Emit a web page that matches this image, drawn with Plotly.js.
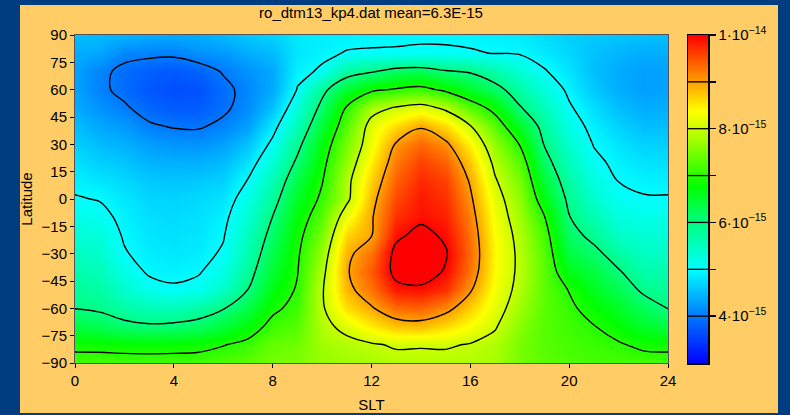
<!DOCTYPE html>
<html>
<head>
<meta charset="utf-8">
<script src="https://cdn.plot.ly/plotly-3.0.1.min.js"></script>
<style>
  html, body { margin: 0; padding: 0; background: #003C80; }
  #chart { width: 790px; height: 415px; }
</style>
</head>
<body>
<div id="chart"></div>
<script>
// Local solar time (hours) and latitude (degrees) of the grid
const slt = [0,1,2,3,4,5,6,7,8,9,10,11,12,13,14,15,16,17,18,19,20,21,22,23,24];
const latitude = [90,80,70,60,50,40,30,20,10,0,-10,-20,-30,-40,-50,-60,-70,-80,-90];

// Density values in units of 1e-15 (rows follow `latitude`, columns follow `slt`)
const lat90  = [4.52,4.50,4.45,4.40,4.38,4.40,4.50,4.60,4.68,4.85,4.88,4.90,4.93,4.93,4.93,4.93,4.92,4.88,4.85,4.75,4.65,4.60,4.58,4.55,4.52];
const lat80  = [4.40,4.35,4.12,4.08,4.07,4.20,4.25,4.40,4.50,4.82,4.93,5.02,5.03,5.04,5.07,5.06,5.03,4.99,4.97,4.85,4.70,4.55,4.45,4.40,4.40];
const lat70  = [4.32,4.10,3.90,3.80,3.75,3.82,4.03,4.20,4.36,4.90,5.05,5.75,5.95,6.20,6.25,6.05,5.95,5.65,5.35,5.03,4.80,4.52,4.38,4.30,4.32];
const lat60  = [4.32,4.08,3.90,3.72,3.65,3.68,3.90,4.12,4.38,5.02,5.85,6.50,6.90,7.05,7.15,6.90,6.55,6.20,5.70,5.30,4.92,4.60,4.40,4.30,4.32];
const lat50  = [4.40,4.20,4.05,3.85,3.75,3.76,3.93,4.15,4.55,5.30,6.15,7.05,7.80,8.05,8.20,7.90,7.30,6.83,6.05,5.55,5.05,4.75,4.52,4.40,4.40];
const lat40  = [4.52,4.35,4.25,4.05,3.97,3.96,4.08,4.30,4.85,5.55,6.45,7.30,8.20,8.60,8.95,8.60,8.02,7.30,6.55,5.80,5.20,4.88,4.66,4.52,4.52];
const lat30  = [4.66,4.50,4.42,4.28,4.22,4.20,4.30,4.55,5.10,5.85,6.70,7.50,8.30,9.05,9.35,9.10,8.45,7.65,6.98,5.97,5.38,4.98,4.80,4.67,4.66];
const lat20  = [4.78,4.65,4.58,4.45,4.42,4.42,4.50,4.80,5.35,6.10,6.85,7.68,8.50,9.25,9.60,9.40,8.75,7.88,7.30,6.20,5.55,5.10,4.90,4.80,4.78];
const lat10  = [4.90,4.82,4.72,4.60,4.58,4.60,4.67,5.02,5.60,6.35,6.97,7.85,8.70,9.40,9.75,9.60,8.95,8.05,7.50,6.45,5.72,5.25,4.99,4.92,4.90];
const lat0   = [5.03,4.98,4.83,4.70,4.68,4.72,4.80,5.20,5.80,6.55,7.10,7.88,8.85,9.55,9.85,9.70,9.08,8.20,7.65,6.70,5.88,5.40,5.10,5.03,5.03];
const latS10 = [5.18,5.12,4.90,4.77,4.74,4.78,4.90,5.35,6.01,6.72,7.30,8.30,8.95,9.70,9.90,9.80,9.20,8.30,7.75,7.02,6.02,5.60,5.25,5.18,5.18];
const latS20 = [5.33,5.27,4.96,4.82,4.78,4.82,4.97,5.50,6.18,6.85,7.50,8.65,8.98,9.90,10.15,9.92,9.30,8.38,7.85,7.20,6.20,5.85,5.45,5.33,5.33];
const latS30 = [5.48,5.42,5.03,4.87,4.83,4.87,5.05,5.63,6.35,6.93,7.70,8.88,9.30,10.15,10.35,10.05,9.35,8.42,7.90,7.30,6.40,6.15,5.75,5.48,5.48];
const latS40 = [5.64,5.57,5.20,4.95,4.92,4.97,5.20,5.80,6.50,6.98,7.85,8.95,9.45,10.15,10.25,9.95,9.28,8.40,7.90,7.35,6.65,6.40,6.05,5.68,5.64];
const latS50 = [5.82,5.73,5.40,5.15,5.05,5.12,5.45,6.01,6.68,7.05,7.95,8.85,9.30,9.85,9.90,9.70,9.05,8.33,7.85,7.35,6.98,6.60,6.30,5.92,5.82];
const latS60 = [5.99,5.92,5.72,5.55,5.55,5.72,5.97,6.35,6.90,7.15,7.93,8.60,8.95,9.35,9.40,9.15,8.70,8.20,7.75,7.33,7.10,6.80,6.55,6.25,5.99];
const latS70 = [6.40,6.30,6.15,6.08,6.12,6.20,6.45,6.75,7.15,7.30,7.85,8.15,8.50,8.75,8.80,8.60,8.35,8.04,7.60,7.30,7.15,7.02,6.78,6.55,6.40];
const latS80 = [6.87,6.86,6.82,6.80,6.82,6.86,6.98,7.12,7.40,7.45,7.75,7.85,7.95,8.05,8.03,8.05,7.97,7.85,7.50,7.30,7.20,7.12,7.05,6.90,6.87];
const latS90 = [7.20,7.20,7.20,7.20,7.20,7.20,7.25,7.35,7.50,7.55,7.70,7.75,7.80,7.85,7.88,7.85,7.85,7.80,7.50,7.35,7.25,7.22,7.20,7.20,7.20];

const density = [lat90,lat80,lat70,lat60,lat50,lat40,lat30,lat20,lat10,lat0,
                 latS10,latS20,latS30,latS40,latS50,latS60,latS70,latS80,latS90];

// Colour bar levels (units of 1e-15) and labels
const cbLevels = [3,4,5,6,7,8,9,10];
const cbTickVals = [4,6,8,10];
const cbTickText = ['4·10<sup>−15</sup>','6·10<sup>−15</sup>','8·10<sup>−15</sup>','1·10<sup>−14</sup>'];
const cbMinorVals = [5,7,9];
const latTicks = [90,75,60,45,30,15,0,-15,-30,-45,-60,-75,-90];
const sltTicks = [0,4,8,12,16,20,24];
const titleText = 'ro_dtm13_kp4.dat mean=6.3E-15';

const colorscale = [
  [0.000,'#0000ff'],
  [0.143,'#0078ff'],
  [0.286,'#00ffff'],
  [0.429,'#00ff80'],
  [0.540,'#00ff00'],
  [0.714,'#c8ff00'],
  [0.770,'#ffff00'],
  [0.857,'#ffa000'],
  [1.000,'#ff0000']
];

const FONT = 'Liberation Sans, Arial, Helvetica, sans-serif';

const main = {
  type: 'contour',
  x: slt, y: latitude, z: density,
  colorscale: colorscale, zmin: 3, zmax: 10, zauto: false,
  contours: {start: 4, end: 10, size: 1, coloring: 'heatmap', showlines: true},
  line: {color: '#000', width: 1.4, smoothing: 1},
  showscale: false, hoverinfo: 'skip',
  xaxis: 'x', yaxis: 'y'
};

const cbZ = cbLevels.map(v => [v, v]);
const bar = {
  type: 'contour',
  x: [0, 1], y: cbLevels, z: cbZ,
  colorscale: colorscale, zmin: 3, zmax: 10, zauto: false,
  contours: {start: 4, end: 9, size: 1, coloring: 'heatmap', showlines: true},
  line: {color: '#000', width: 1.3, smoothing: 0},
  showscale: false, hoverinfo: 'skip',
  xaxis: 'x2', yaxis: 'y2'
};

const L = 75, R = 82, T = 35, B = 52, W = 790, H = 415;
const pw = W - L - R, ph = H - T - B;
const px2x = p => (p - L) / pw;
const py2y = p => (H - B - p) / ph;

const layout = {
  width: W, height: H,
  margin: {l: L, r: R, t: T, b: B, pad: 0},
  paper_bgcolor: '#003C80',
  plot_bgcolor: 'rgba(0,0,0,0)',
  font: {family: FONT, size: 15, color: '#000'},
  showlegend: false,
  title: {
    text: titleText, font: {family: FONT, size: 15, color: '#000'},
    xref: 'container', x: 371 / W, xanchor: 'center',
    yref: 'container', y: 1 - 13 / H, yanchor: 'middle'
  },
  xaxis: {
    domain: [0, px2x(668)], range: [0, 24], tickvals: sltTicks,
    ticks: 'outside', ticklen: 4, tickcolor: '#000',
    showline: true, mirror: true, linecolor: '#555', linewidth: 1,
    showgrid: false, zeroline: false,
    tickfont: {family: FONT, size: 15, color: '#000'},
    title: {text: 'SLT', font: {family: FONT, size: 15, color: '#000'}, standoff: 11}
  },
  yaxis: {
    domain: [0, 1], range: [-90, 90], tickvals: latTicks,
    ticks: 'outside', ticklen: 4, tickcolor: '#000',
    showline: true, mirror: true, linecolor: '#555', linewidth: 1,
    showgrid: false, zeroline: false,
    tickfont: {family: FONT, size: 15, color: '#000'},
    title: {text: 'Latitude', font: {family: FONT, size: 15, color: '#000'}, standoff: 5}
  },
  xaxis2: {
    domain: [px2x(688), 1], range: [0, 1], anchor: 'y2',
    showticklabels: false, ticks: '', showgrid: false, zeroline: false,
    showline: true, mirror: true, linecolor: '#000', linewidth: 1.5
  },
  yaxis2: {
    domain: [0, 1], range: [3, 10], anchor: 'x2', side: 'right',
    tickmode: 'array', tickvals: cbTickVals, ticktext: cbTickText,
    ticks: 'outside', ticklen: 6, tickwidth: 1.3, tickcolor: '#000',
    minor: {tickmode: 'array', tickvals: cbMinorVals, ticks: 'outside', ticklen: 6, tickwidth: 1.3, tickcolor: '#000', showgrid: false},
    showline: true, mirror: true, linecolor: '#000', linewidth: 1.5,
    showgrid: false, zeroline: false,
    tickfont: {family: FONT, size: 15, color: '#000'}
  },
  shapes: [{
    type: 'rect', layer: 'below', xref: 'paper', yref: 'paper',
    x0: px2x(20), x1: px2x(778), y0: py2y(413), y1: py2y(5),
    fillcolor: '#FFCC66', line: {width: 0}
  }]
};

Plotly.newPlot('chart', [main, bar], layout, {displayModeBar: false, staticPlot: true});
</script>
</body>
</html>
